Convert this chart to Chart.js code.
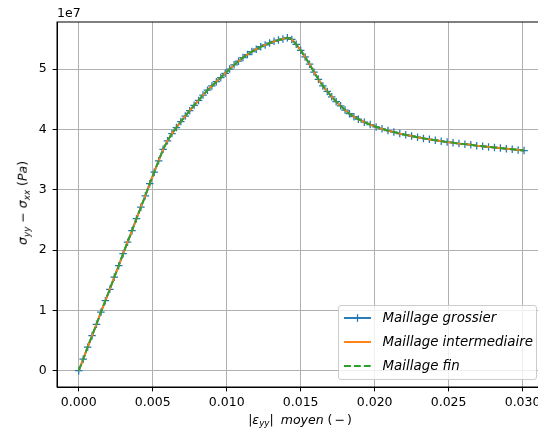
<!DOCTYPE html>
<html>
<head>
<meta charset="utf-8">
<script src="https://cdn.jsdelivr.net/npm/chart.js@4/dist/chart.umd.min.js"></script>
<style>
html,body{margin:0;padding:0;background:#fff;overflow:hidden;width:538px;height:434px;}
#wrap{position:relative;width:560px;height:434px;font-family:"DejaVu Sans",sans-serif;color:#000;}
#c{position:absolute;left:0;top:0;}
.lbl{position:absolute;white-space:nowrap;font-size:12.5px;line-height:1;}
.lbl sub{font-size:8.8px;vertical-align:-2.5px;line-height:0;}
#ytitle{left:22.7px;top:203.3px;transform:translate(-50%,-50%) rotate(-90deg);}
#xtitle{left:300px;top:420px;transform:translate(-50%,-50%);}
#offset{left:57px;top:7px;}
#legend{position:absolute;left:338px;top:305px;width:199px;height:75px;box-sizing:border-box;border:1px solid #cccccc;border-radius:3px;background:rgba(255,255,255,0.8);}
.row{position:absolute;left:0;height:14px;width:197px;}
.row svg{position:absolute;left:4.5px;top:0;}
.row span{position:absolute;left:43.5px;top:0;font-style:italic;font-size:13.4px;line-height:14px;white-space:nowrap;}
</style>
</head>
<body>
<div id="wrap">
<canvas id="c" width="560" height="434"></canvas>
<div class="lbl" id="offset">1e7</div>
<div class="lbl" id="xtitle">|<i>ε</i><sub><i>yy</i></sub>|<span style="display:inline-block;width:7px"></span><i>moyen</i> (<span style="display:inline-block;width:2px"></span>−<span style="display:inline-block;width:2px"></span>)</div>
<div class="lbl" id="ytitle"><i>σ</i><sub><i>yy</i></sub> − <i>σ</i><sub><i>xx</i></sub> (<i>Pa</i>)</div>
<div id="legend">
  <div class="row" style="top:4.7px">
    <svg width="28" height="14"><line x1="0" y1="7" x2="27" y2="7" stroke="#1f77b4" stroke-width="1.9"/><line x1="13.5" y1="3.2" x2="13.5" y2="10.8" stroke="#1f77b4" stroke-width="1.25"/></svg>
    <span>Maillage grossier</span>
  </div>
  <div class="row" style="top:28.7px">
    <svg width="28" height="14"><line x1="0" y1="7" x2="27" y2="7" stroke="#ff7f0e" stroke-width="1.9"/></svg>
    <span>Maillage intermediaire</span>
  </div>
  <div class="row" style="top:53px">
    <svg width="28" height="14"><line x1="0" y1="7" x2="27" y2="7" stroke="#2ca02c" stroke-width="1.9" stroke-dasharray="6.9 3"/></svg>
    <span>Maillage fin</span>
  </div>
</div>
</div>
<script>
// |eps_yy| moyen (-)
const strainGrossier = [
  0, 0.0003, 0.0006, 0.0009, 0.0012, 0.0015, 0.0018, 0.0021, 0.0024, 0.0027,
  0.0030, 0.0033, 0.0036, 0.0039, 0.0042, 0.0045, 0.0048, 0.0051, 0.0054, 0.0057,
  0.0060, 0.0063, 0.0066, 0.0069, 0.0072, 0.0075, 0.0078, 0.0081, 0.0084, 0.0087,
  0.0090, 0.0093, 0.0096, 0.0099, 0.0102, 0.0105, 0.0108, 0.0111, 0.0114, 0.0117,
  0.0120, 0.0123, 0.0126, 0.0129, 0.0132, 0.0135, 0.0138, 0.0141, 0.0144, 0.0147,
  0.0150, 0.0153, 0.0156, 0.0159, 0.0162, 0.0165, 0.0168, 0.0171, 0.0174, 0.0177,
  0.0180, 0.0183, 0.0186, 0.0189, 0.0193, 0.0197, 0.0201, 0.0205, 0.0209, 0.0213,
  0.0217, 0.0221, 0.0225, 0.0229, 0.0233, 0.0237, 0.0241, 0.0245, 0.0249, 0.0253,
  0.0257, 0.0261, 0.0265, 0.0269, 0.0273, 0.0277, 0.0281, 0.0285, 0.0289, 0.0293,
  0.0297, 0.0301
];
// sigma_yy - sigma_xx, in units of 1e7 Pa
const stressGrossier = [
  0, 0.19, 0.39, 0.58, 0.77, 0.97, 1.16, 1.35, 1.55, 1.74,
  1.94, 2.13, 2.32, 2.52, 2.71, 2.90, 3.10, 3.29, 3.48, 3.67,
  3.81, 3.93, 4.03, 4.13, 4.22, 4.31, 4.40, 4.48, 4.57, 4.65,
  4.72, 4.79, 4.86, 4.93, 5.00, 5.07, 5.13, 5.19, 5.24, 5.29,
  5.33, 5.37, 5.40, 5.43, 5.46, 5.48, 5.50, 5.52, 5.49, 5.41,
  5.31, 5.20, 5.08, 4.95, 4.83, 4.72, 4.63, 4.54, 4.46, 4.39,
  4.32, 4.26, 4.21, 4.17, 4.12, 4.08, 4.04, 4.01, 3.98, 3.955,
  3.93, 3.91, 3.89, 3.87, 3.85, 3.835, 3.82, 3.805, 3.79, 3.78,
  3.765, 3.755, 3.745, 3.73, 3.72, 3.71, 3.70, 3.69, 3.68, 3.67,
  3.66, 3.65
];
const strainIntermediaire = strainGrossier;
const stressIntermediaire = stressGrossier;
const strainFin = strainGrossier;
const stressFin = stressGrossier;

const seriesLabels = ['Maillage grossier', 'Maillage intermediaire', 'Maillage fin'];
const xTickValues = [0, 0.005, 0.010, 0.015, 0.020, 0.025, 0.030];
const yTickValues = [0, 1, 2, 3, 4, 5];

function pts(xs, ys) { return xs.map((x, i) => ({ x: x, y: ys[i] })); }

const framePlugin = {
  id: 'frame',
  afterDatasetsDraw(chart) {
    const a = chart.chartArea, c = chart.ctx;
    c.save();
    c.strokeStyle = '#000';
    c.lineWidth = 1;
    c.strokeRect(a.left, a.top, a.right - a.left, a.bottom - a.top);
    c.restore();
  }
};

const tickFont = { family: 'DejaVu Sans', size: 12.5 };

new Chart(document.getElementById('c'), {
  type: 'line',
  data: {
    datasets: [
      {
        label: seriesLabels[0], data: pts(strainGrossier, stressGrossier),
        borderColor: '#1f77b4', backgroundColor: '#1f77b4', borderWidth: 1.875,
        pointStyle: 'cross', pointRadius: 3.75, pointBorderWidth: 1.25,
        pointBorderColor: '#1f77b4', pointHoverRadius: 3.75, tension: 0, order: 3
      },
      {
        label: seriesLabels[1], data: pts(strainIntermediaire, stressIntermediaire),
        borderColor: '#ff7f0e', backgroundColor: '#ff7f0e', borderWidth: 1.875,
        pointRadius: 0, pointHoverRadius: 0, tension: 0, order: 2
      },
      {
        label: seriesLabels[2], data: pts(strainFin, stressFin),
        borderColor: '#2ca02c', backgroundColor: '#2ca02c', borderWidth: 1.875,
        borderDash: [6.9, 3], pointRadius: 0, pointHoverRadius: 0, tension: 0, order: 1
      }
    ]
  },
  options: {
    responsive: false,
    animation: false,
    devicePixelRatio: 1,
    events: [],
    layout: { padding: { top: 22, right: 13, left: 0, bottom: 0 } },
    plugins: { legend: { display: false }, tooltip: { enabled: false } },
    scales: {
      x: {
        type: 'linear', min: -0.00147, max: 0.03165,
        afterFit(s) { s.height = 47; },
        afterBuildTicks(s) { s.ticks = xTickValues.map(v => ({ value: v })); },
        ticks: { callback: v => v.toFixed(3), font: tickFont, color: '#000', padding: 4, maxRotation: 0, autoSkip: false },
        grid: { color: '#b0b0b0', lineWidth: 1, tickLength: 4.4, tickColor: '#000' },
        border: { color: '#000', width: 1 }
      },
      y: {
        type: 'linear', min: -0.27, max: 5.78,
        afterFit(s) { s.width = 57; },
        afterBuildTicks(s) { s.ticks = yTickValues.map(v => ({ value: v })); },
        ticks: { callback: v => String(v), font: tickFont, color: '#000', padding: 6, autoSkip: false },
        grid: { color: '#b0b0b0', lineWidth: 1, tickLength: 4.4, tickColor: '#000' },
        border: { color: '#000', width: 1 }
      }
    }
  },
  plugins: [framePlugin]
});
</script>
</body>
</html>
